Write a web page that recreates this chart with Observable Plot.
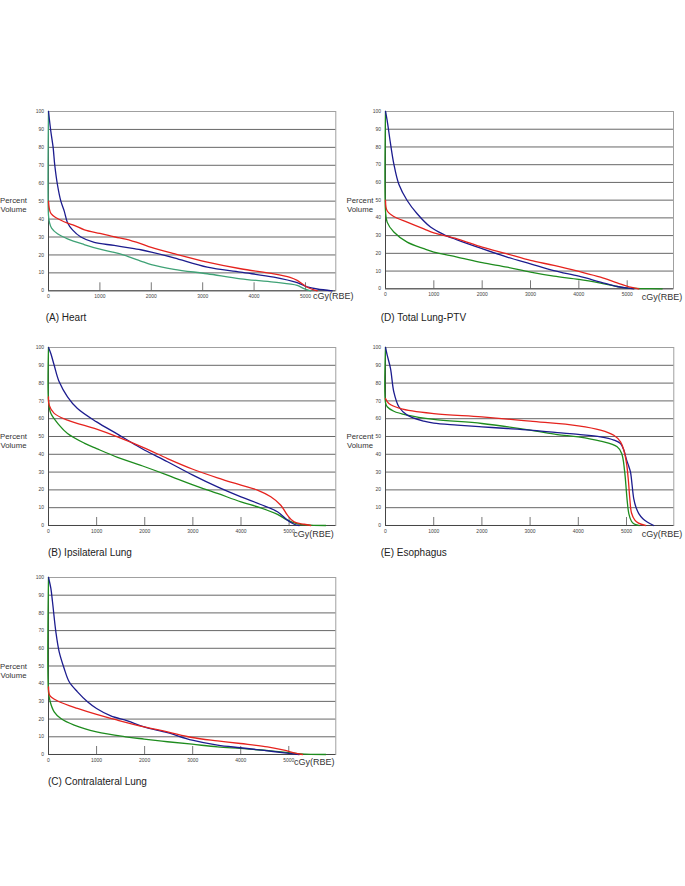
<!DOCTYPE html>
<html><head><meta charset="utf-8">
<script src="https://cdn.jsdelivr.net/npm/d3@7"></script>
<script src="https://cdn.jsdelivr.net/npm/@observablehq/plot@0.6"></script>
<style>
body{margin:0;background:#fff;}
#root{position:relative;width:685px;height:886px;overflow:hidden;font-family:"Liberation Sans",Arial,sans-serif;color:#222;background:#fff}
.t{position:absolute;white-space:nowrap;line-height:1;transform:translateY(-50%)}
.pv{position:absolute;white-space:nowrap;line-height:9px;font-size:7.8px;color:#333;text-align:center;width:40px;transform:translate(-50%,-4.5px)}
.panel{position:absolute}
</style></head><body><div id="root"></div><script>
// ---- data: [dose cGy(RBE), percent volume] ----
const heartBlue = [[0,100],[45,89],[90,80],[122,70],[175,59],[240,50],[305,44.6],[370,38],[467,34],[630,30],[890,27],[1277,25.3],[1666,23.5],[1794,22.9],[2000,21.6],[2442,18.4],[3090,13.2],[3738,10.4],[4385,7.6],[4839,4.5],[5034,2.2],[5228,1],[5520,0]];
const heartRed = [[0,50],[15,46],[50,43],[150,40.7],[370,37.7],[500,36.5],[700,34],[1000,32],[1300,30],[1500,28.8],[1794,26.3],[2000,24.2],[2442,20.7],[3090,16],[3738,12.3],[4385,9.5],[4700,7.5],[4839,5.8],[5034,2],[5228,0]];
const heartGreen = [[0,100],[0,42],[20,38],[60,35],[175,31.8],[370,29],[693,25.8],[1000,23.2],[1250,21.6],[1470,19.9],[1794,16.6],[2000,14.6],[2442,12],[3090,9.5],[3738,6.7],[4385,4.8],[4839,3],[4970,1.2],[5100,0]];

const lungBlue = [[0,100],[34,95],[103,82],[172,70.5],[276,59],[448,49.8],[655,42.3],[931,34.8],[1207,30.6],[1483,27.6],[2000,22.6],[2517,17.9],[3000,14.1],[3483,10.3],[4000,7.1],[4448,3.8],[4793,1.3],[5000,0.4],[5138,0]];
const lungRed = [[0,50],[34,44],[172,40.8],[448,37.6],[793,33.8],[1000,31.5],[1483,28.2],[2000,23.5],[2517,19.7],[3000,16],[3483,13.2],[4000,9.8],[4448,6.6],[4793,3.4],[5069,0.9],[5241,0]];
const lungGreen = [[0,100],[0,44],[34,37.6],[172,32],[448,26.3],[793,22.6],[1000,20.7],[1483,17.9],[2000,14.7],[2517,12.2],[3000,9.4],[3483,7.1],[4000,5.3],[4448,3.2],[4793,1.3],[5000,0.4],[5276,0.15],[5724,0]];

const ipsiBlue = [[0,100],[48,96.6],[118,90],[222,80.7],[395,72.3],[602,65.7],[1000,58.2],[1434,51.3],[1780,45.7],[2000,42.3],[2472,35.8],[3000,28.3],[3511,21.7],[4000,16.1],[4411,11.8],[4758,7.7],[4965,3],[5104,0.7],[5208,0]];
const ipsiRed = [[0,72.3],[14,67.6],[118,63],[395,59.2],[1000,54.1],[1434,49.8],[2000,43.5],[2472,37.6],[3000,31.6],[3511,26.8],[4000,22.7],[4342,19.9],[4619,16.1],[4827,11.4],[4965,5.8],[5104,2],[5312,0.7],[5450,0]];
const ipsiGreen = [[0,100],[0,70],[48,63],[222,56.4],[395,51.7],[741,46.3],[1000,43.2],[1434,38.3],[2000,33],[2472,28.3],[3000,22.8],[3511,18],[4000,13.3],[4411,9.9],[4758,6.2],[4965,3],[5173,0.9],[5450,0.2],[5762,0]];

const esoBlue = [[0,100],[35,95.7],[104,88.2],[173,75],[277,66.7],[450,62],[795,58.6],[1000,57.5],[1487,56.4],[2000,55.4],[2524,54.5],[3000,53.6],[3562,52.2],[4000,51.2],[4461,49.8],[4737,48],[4876,46],[4945,42.3],[5000,37],[5050,33],[5083,30],[5151,15],[5200,10],[5255,6.7],[5340,3.8],[5429,2],[5566,0]];
const esoRed = [[0,71.3],[69,68.5],[311,65.7],[1000,62.9],[2000,61],[3000,58.6],[4000,56],[4461,53.6],[4737,50.7],[4876,47],[4945,42.3],[5000,35],[5040,25],[5069,15],[5104,7],[5173,3],[5250,1.3],[5394,0]];
const esoGreen = [[0,100],[0,69],[35,66.7],[173,64.2],[450,62],[1000,59.6],[2000,57.3],[3000,53.6],[3562,51.1],[4000,49.8],[4461,47.4],[4806,44.2],[4900,40.5],[4959,31],[5014,14],[5048,6.7],[5100,2.5],[5151,1],[5255,0]];

const contraBlue = [[0,100],[49,93.8],[83,86.3],[153,69.3],[222,58],[326,48.6],[430,41.1],[603,35.4],[811,29.8],[1000,26],[1297,21.8],[1644,19],[1990,15.6],[2476,12.3],[2989,8.1],[3516,5.3],[3994,3.8],[4487,2.3],[5000,0.6],[5215,0]];
const contraRed = [[0,38.2],[15,34],[49,32.6],[222,29.8],[603,26],[1000,22.6],[1435,19.4],[1990,15.6],[2476,12.8],[2989,9.6],[3516,7.7],[3994,6.2],[4556,4.3],[4903,2.4],[5111,0.9],[5284,0]];
const contraGreen = [[0,100],[0,35.4],[35,29.8],[118,24.1],[257,20.3],[534,16.6],[1000,12.8],[1602,10],[1990,8.7],[2476,7.2],[2989,5.8],[3516,4.3],[3994,3.4],[4487,2.4],[5000,1.1],[5250,0.4],[5770,0]];

const titles = ["(A) Heart", "(D) Total Lung-PTV", "(B) Ipsilateral Lung", "(E) Esophagus", "(C) Contralateral Lung"];
const xTicks = [0, 1000, 2000, 3000, 4000, 5000];
const xTickMarks = [1000, 2000, 3000, 4000, 5000];
const yTicks = [0, 10, 20, 30, 40, 50, 60, 70, 80, 90, 100];
const gridY = [10, 20, 30, 40, 50, 60, 70, 80, 90];
const yLabel = ["Percent", "Volume"];
const xLabel = "cGy(RBE)";

// ---- layout ----
const layout = [
  {series:[heartGreen, heartBlue, heartRed], green:"#3fa276", L:47.7, T:111, R:335, B:290.3, xMax:5590, tx:45.7, ty:318, pvx:13.5, pvy:200, cx:313, cy:295.5},
  {series:[lungGreen, lungBlue, lungRed], green:"#1e8c1e", L:385, T:111, R:673, B:288.3, xMax:5958, tx:380.7, ty:318, pvx:360, pvy:199.5, cx:641.7, cy:296.5},
  {series:[ipsiGreen, ipsiBlue, ipsiRed], green:"#1e8c1e", L:47.7, T:347.3, R:335, B:525.3, xMax:5970, tx:48, ty:553, pvx:13.5, pvy:435.5, cx:293.3, cy:534},
  {series:[esoGreen, esoBlue, esoRed], green:"#1e8c1e", L:385, T:347.3, R:673.3, B:525.3, xMax:5981, tx:380.7, ty:553, pvx:360, pvy:436, cx:641.7, cy:534.3},
  {series:[contraGreen, contraBlue, contraRed], green:"#1e8c1e", L:47.7, T:577.3, R:335, B:754.3, xMax:5978, tx:48, ty:782, pvx:13.5, pvy:665.5, cx:294, cy:761.7}
];
const blue = "#1c1c8e", red = "#e5231e";

const root = document.getElementById("root");
const mL = 40, mT = 6, mB = 14, mR = 6;

layout.forEach((p, i) => {
  const pw = p.R - p.L, ph = p.B - p.T;
  const colors = [p.green, blue, red];
  const chart = Plot.plot({
    width: mL + pw + mR,
    height: mT + ph + mB,
    marginLeft: mL, marginTop: mT, marginBottom: mB, marginRight: mR,
    x: {domain: [0, p.xMax]},
    y: {domain: [0, 100]},
    style: {fontFamily: "Liberation Sans, Arial, sans-serif", background: "transparent", overflow: "visible"},
    marks: [
      Plot.frame({stroke: "#a0a0a0"}),
      Plot.ruleY(gridY, {stroke: "#666", strokeWidth: 1}),
      Plot.ruleX(xTickMarks, {stroke: "#777", strokeWidth: 1, insetTop: ph - 8}),
      Plot.axisX({ticks: xTicks, tickSize: 0, tickPadding: 3.5, fontSize: 5, fill: "#444", tickFormat: d => String(d), label: null}),
      Plot.axisY({ticks: yTicks, tickSize: 0, tickPadding: 4.4, fontSize: 5, fill: "#444", tickFormat: d => String(d), label: null}),
      Plot.ruleY([0], {stroke: "#444", strokeWidth: 1}),
      Plot.ruleX([0], {stroke: "#444", strokeWidth: 1}),
      ...p.series.map((s, k) => Plot.line(s, {x: d => d[0], y: d => d[1], stroke: colors[k], strokeWidth: 1.3, curve: "catmull-rom"}))
    ]
  });
  const wrap = document.createElement("div");
  wrap.className = "panel";
  wrap.style.left = (p.L - mL) + "px";
  wrap.style.top = (p.T - mT) + "px";
  wrap.appendChild(chart);
  root.appendChild(wrap);

  const t = document.createElement("div");
  t.className = "t"; t.textContent = titles[i];
  t.style.left = p.tx + "px"; t.style.top = p.ty + "px"; t.style.fontSize = "10px";
  root.appendChild(t);

  const pv = document.createElement("div");
  pv.className = "pv"; pv.innerHTML = yLabel.join("<br>");
  pv.style.left = p.pvx + "px"; pv.style.top = p.pvy + "px";
  root.appendChild(pv);

  const c = document.createElement("div");
  c.className = "t"; c.textContent = xLabel;
  c.style.left = p.cx + "px"; c.style.top = p.cy + "px"; c.style.fontSize = "9px"; c.style.color = "#333";
  root.appendChild(c);
});
</script></body></html>
